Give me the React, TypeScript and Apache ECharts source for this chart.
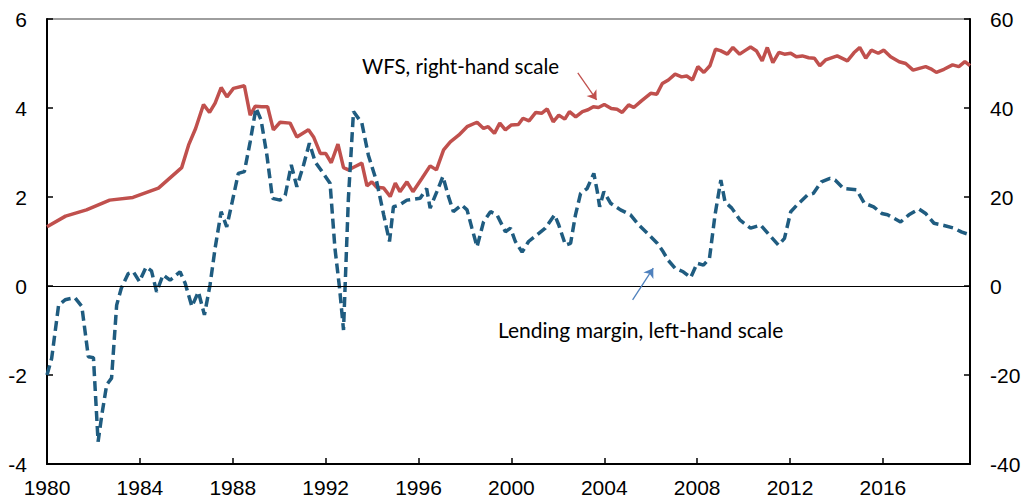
import React, { useEffect, useRef } from "react";
import * as echarts from "echarts";

// WFS (right-hand scale, per cent)
const wfsYears = [
  1980.0, 1980.8, 1981.7, 1982.7, 1983.7, 1984.8, 1985.8, 1986.1, 1986.4, 1986.74,
  1987.0, 1987.24, 1987.5, 1987.75, 1988.03, 1988.5, 1988.75, 1988.97, 1989.25, 1989.5,
  1989.75, 1990.04, 1990.47, 1990.76, 1991.26, 1991.48, 1991.77, 1992.0, 1992.24, 1992.53,
  1992.77, 1992.98, 1993.25, 1993.56, 1993.78, 1993.99, 1994.2, 1994.5, 1994.78, 1995.0,
  1995.2, 1995.5, 1995.76, 1996.15, 1996.5, 1996.77, 1997.08, 1997.37, 1997.73, 1998.09,
  1998.52, 1998.8, 1999.0, 1999.27, 1999.5, 1999.74, 2000.0, 2000.3, 2000.5, 2000.76,
  2001.05, 2001.3, 2001.54, 2001.8, 2002.04, 2002.3, 2002.5, 2002.77, 2003.06, 2003.3,
  2003.53, 2003.75, 2004.0, 2004.3, 2004.55, 2004.77, 2005.05, 2005.27, 2005.6, 2006.0,
  2006.26, 2006.5, 2006.76, 2007.05, 2007.33, 2007.55, 2007.8, 2008.03, 2008.29, 2008.55,
  2008.79, 2009.0, 2009.3, 2009.54, 2009.83, 2010.09, 2010.3, 2010.56, 2010.8, 2011.02,
  2011.26, 2011.52, 2011.76, 2012.03, 2012.27, 2012.53, 2012.8, 2013.05, 2013.28, 2013.53,
  2014.03, 2014.47, 2014.75, 2015.0, 2015.26, 2015.5, 2015.8, 2016.04, 2016.33, 2016.7,
  2016.98, 2017.3, 2017.84, 2018.06, 2018.3, 2018.63, 2019.0, 2019.27, 2019.53, 2019.75,
];
const wfsValues = [
  13.3, 15.7, 17.1, 19.3, 19.9, 22.0, 26.6, 31.7, 35.4, 40.8,
  39.0, 41.1, 44.6, 42.5, 44.4, 45.0, 38.4, 40.4, 40.3, 40.3,
  35.1, 36.8, 36.6, 33.5, 35.1, 33.5, 29.8, 29.8, 27.7, 31.9,
  26.6, 26.1, 26.8, 27.6, 22.5, 23.4, 22.2, 22.0, 20.1, 23.1,
  21.2, 23.4, 21.2, 24.2, 27.0, 26.1, 30.6, 32.4, 33.9, 35.8,
  36.8, 35.4, 35.8, 34.3, 36.6, 35.1, 36.2, 36.3, 37.7, 37.1,
  39.0, 38.8, 39.8, 36.9, 38.4, 37.5, 39.2, 38.0, 39.2, 39.6,
  40.3, 40.1, 40.8, 39.9, 39.7, 39.0, 40.7, 40.1, 41.6, 43.3,
  43.1, 45.5, 46.3, 47.6, 47.0, 47.2, 46.3, 49.3, 48.0, 49.5,
  53.2, 52.9, 52.1, 53.6, 52.1, 53.0, 53.7, 52.8, 50.6, 53.6,
  50.2, 52.5, 52.1, 52.3, 51.5, 51.7, 51.3, 51.2, 49.5, 50.8,
  51.7, 50.6, 52.4, 53.6, 51.2, 53.0, 52.3, 53.0, 51.5, 50.4,
  50.0, 48.5, 49.3, 48.8, 48.0, 48.7, 49.7, 49.3, 50.4, 49.5,
];

// Lending margin (left-hand scale, percentage points)
const marginYears = [
  1980.0, 1980.2, 1980.5, 1980.78, 1981.2, 1981.5, 1981.78, 1982.0, 1982.2, 1982.36,
  1982.57, 1982.78, 1983.0, 1983.2, 1983.5, 1983.72, 1983.98, 1984.27, 1984.5, 1984.72,
  1985.0, 1985.3, 1985.73, 1985.95, 1986.24, 1986.52, 1986.78, 1987.02, 1987.24, 1987.5,
  1987.74, 1987.98, 1988.24, 1988.5, 1988.75, 1989.0, 1989.22, 1989.47, 1989.71, 1990.04,
  1990.26, 1990.52, 1990.76, 1991.05, 1991.3, 1991.55, 1991.9, 1992.19, 1992.4, 1992.6,
  1992.77, 1992.84, 1992.98, 1993.2, 1993.56, 1993.84, 1994.2, 1994.5, 1994.75, 1994.92,
  1995.18, 1995.5, 1996.07, 1996.35, 1996.5, 1996.79, 1997.05, 1997.29, 1997.5, 1997.86,
  1998.09, 1998.3, 1998.52, 1998.8, 1999.1, 1999.38, 1999.74, 1999.96, 2000.17, 2000.46,
  2000.74, 2001.1, 2001.46, 2001.86, 2002.04, 2002.33, 2002.55, 2002.76, 2002.98, 2003.26,
  2003.55, 2003.7, 2003.8, 2003.98, 2004.27, 2004.7, 2005.13, 2005.49, 2005.92, 2006.28,
  2006.5, 2006.75, 2007.05, 2007.4, 2007.72, 2008.0, 2008.27, 2008.53, 2008.77, 2009.02,
  2009.2, 2009.49, 2009.85, 2010.3, 2010.73, 2011.1, 2011.5, 2011.76, 2012.03, 2012.3,
  2012.74, 2013.0, 2013.35, 2013.72, 2013.94, 2014.3, 2014.87, 2015.2, 2015.6, 2015.95,
  2016.2, 2016.76, 2017.12, 2017.55, 2017.84, 2018.2, 2018.63, 2019.06, 2019.4, 2019.75,
];
const marginValues = [
  -2.0, -1.63, -0.43, -0.31, -0.26, -0.46, -1.59, -1.61, -3.5, -2.9,
  -2.22, -2.07, -0.43, -0.05, 0.28, 0.32, 0.1, 0.43, 0.34, -0.13,
  0.25, 0.13, 0.32, 0.06, -0.46, -0.13, -0.65, 0.02, 0.85, 1.67,
  1.33, 1.9, 2.53, 2.57, 3.24, 4.0, 3.73, 2.94, 1.97, 1.93,
  2.04, 2.72, 2.23, 2.72, 3.21, 2.79, 2.53, 2.31, 0.85, -0.05,
  -0.99, 0.02, 1.97, 3.92, 3.66, 2.94, 2.34, 1.6, 1.0, 1.78,
  1.82, 1.93, 1.97, 2.19, 1.75, 2.12, 2.46, 2.01, 1.67, 1.82,
  1.71, 1.3, 0.88, 1.44, 1.67, 1.6, 1.22, 1.3, 1.0, 0.76,
  1.0, 1.15, 1.3, 1.6, 1.37, 0.92, 0.96, 1.6, 2.08, 2.19,
  2.53, 2.12, 1.78, 2.12, 1.86, 1.71, 1.6, 1.37, 1.15, 0.96,
  0.8, 0.58, 0.4, 0.32, 0.19, 0.51, 0.47, 0.62, 1.6, 2.38,
  1.89, 1.75, 1.48, 1.3, 1.37, 1.15, 0.92, 1.07, 1.67, 1.82,
  2.04, 2.08, 2.34, 2.42, 2.38, 2.19, 2.16, 1.86, 1.78, 1.63,
  1.6, 1.44, 1.6, 1.73, 1.63, 1.41, 1.36, 1.3, 1.21, 1.15,
];

const wfsLabel = "WFS, right-hand scale";
const marginLabel = "Lending margin, left-hand scale";

const AXIS_FONT = "'Liberation Sans', Arial, sans-serif";
const NOTE_FONT = "Lato, 'Open Sans', sans-serif";

export default function App() {
  const ref = useRef<HTMLDivElement>(null);

  useEffect(() => {
    if (!ref.current) return;
    const chart = echarts.init(ref.current, undefined, { renderer: "svg" });

    const wfsData = wfsYears.map((y, i) => [y, wfsValues[i]]);
    const marginData = marginYears.map((y, i) => [y, marginValues[i]]);

    const axisLabelBase = {
      fontSize: 21,
      color: "#000",
      fontFamily: AXIS_FONT,
    };

    chart.setOption({
      animation: false,
      backgroundColor: "#fff",
      grid: {
        left: 47,
        right: 54,
        top: 19,
        bottom: 37,
        show: true,
        borderColor: "#7f7f7f",
        borderWidth: 1.5,
        backgroundColor: "transparent",
      },
      xAxis: {
        type: "value",
        min: 1980,
        max: 2019.75,
        interval: 4,
        axisLine: { show: true, onZero: false, lineStyle: { color: "#000", width: 2 } },
        axisTick: { show: true, inside: true, length: 6, lineStyle: { color: "#000", width: 1.5 } },
        axisLabel: {
          ...axisLabelBase,
          margin: 13,
          showMaxLabel: false,
          formatter: (v: number) => (Math.abs(v % 4) < 1e-6 ? String(v) : ""),
        },
        splitLine: { show: false },
      },
      yAxis: [
        {
          type: "value",
          min: -4,
          max: 6,
          interval: 2,
          position: "left",
          axisLine: { show: true, onZero: false, lineStyle: { color: "#000", width: 2 } },
          axisTick: { show: true, inside: true, length: 6, lineStyle: { color: "#000", width: 1.5 } },
          axisLabel: { ...axisLabelBase, margin: 20 },
          splitLine: { show: false },
        },
        {
          type: "value",
          min: -40,
          max: 60,
          interval: 20,
          position: "right",
          axisLine: { show: true, onZero: false, lineStyle: { color: "#000", width: 2 } },
          axisTick: { show: true, inside: true, length: 6, lineStyle: { color: "#000", width: 1.5 } },
          axisLabel: { ...axisLabelBase, margin: 20 },
          splitLine: { show: false },
        },
      ],
      series: [
        {
          name: "WFS",
          type: "line",
          yAxisIndex: 1,
          data: wfsData,
          showSymbol: false,
          symbol: "none",
          lineStyle: { color: "#C0504D", width: 3.5 },
          z: 3,
          markLine: {
            silent: true,
            symbol: ["none", "arrow"],
            symbolSize: 9,
            label: { show: false },
            lineStyle: { color: "#C0504D", width: 1.3, type: "solid" },
            data: [
              [
                { coord: [2002.86, 47.9] },
                { coord: [2003.67, 41.8] },
              ],
            ],
          },
        },
        {
          name: "Lending margin",
          type: "line",
          yAxisIndex: 0,
          data: marginData,
          showSymbol: false,
          symbol: "none",
          lineStyle: { color: "#1F5C80", width: 3.5, type: [10, 5] },
          z: 4,
          markLine: {
            silent: true,
            symbol: ["none", "none"],
            label: { show: false },
            lineStyle: { color: "#000", width: 1.2, type: "solid" },
            data: [
              { yAxis: 0 },
              [
                { coord: [2005.22, -0.31], symbol: "none", lineStyle: { color: "#4F81BD", width: 1.3, type: "solid" } },
                { coord: [2006.11, 0.4], symbol: "arrow", symbolSize: 9 },
              ],
            ],
          },
        },
      ],
      graphic: [
        {
          type: "text",
          x: 362,
          y: 66,
          style: {
            text: wfsLabel,
            font: `20.5px ${NOTE_FONT}`,
            fill: "#000",
            align: "left",
            verticalAlign: "middle",
          },
        },
        {
          type: "text",
          x: 498,
          y: 329,
          style: {
            text: marginLabel,
            font: `21px ${NOTE_FONT}`,
            fill: "#000",
            align: "left",
            verticalAlign: "middle",
          },
        },
      ],
    });

    return () => chart.dispose();
  }, []);

  return (
    <div
      ref={ref}
      style={{ position: "absolute", left: 0, top: 0, width: 1024, height: 501, background: "#fff" }}
    />
  );
}
